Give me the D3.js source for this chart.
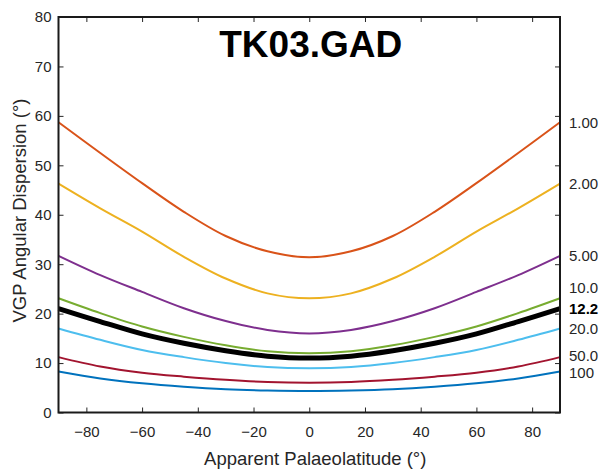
<!DOCTYPE html>
<html>
<head>
<meta charset="utf-8">
<script src="https://cdn.jsdelivr.net/npm/d3@7"></script>
<style>
  body { margin: 0; background: #fff; }
  text { font-family: "Liberation Sans", Arial, Helvetica, sans-serif; }
</style>
</head>
<body>
<div id="chart"></div>
<script>
const lats = [-90, -75, -60, -45, -30, -15, 0, 15, 30, 45, 60, 75, 90]

// VGP dispersion (degrees) for each curve
const s1 = [58.7, 52.5, 46.4, 40.6, 35.7, 32.6, 31.4, 32.6, 35.7, 40.6, 46.4, 52.5, 58.7]
const s2 = [46.3, 41.3, 36.6, 31.5, 27.1, 24.1, 23.1, 24.1, 27.1, 31.5, 36.6, 41.3, 46.3]
const s5 = [31.7, 27.8, 24.4, 21.1, 18.5, 16.7, 16.0, 16.7, 18.5, 21.1, 24.4, 27.8, 31.7]
const s10 = [23.1, 20.1, 17.4, 15.3, 13.6, 12.4, 12.0, 12.4, 13.6, 15.3, 17.4, 20.1, 23.1]
const s12 = [21.0, 18.4, 15.9, 14.0, 12.5, 11.4, 11.0, 11.4, 12.5, 14.0, 15.9, 18.4, 21.0]
const s20 = [17.0, 14.7, 12.65, 11.2, 10.0, 9.2, 8.95, 9.2, 10.0, 11.2, 12.65, 14.7, 17.0]
const s50 = [11.2, 9.3, 8.05, 7.25, 6.6, 6.15, 6.0, 6.15, 6.6, 7.25, 8.05, 9.3, 11.2]
const s100 = [8.3, 6.9, 5.9, 5.2, 4.7, 4.45, 4.35, 4.45, 4.7, 5.2, 5.9, 6.9, 8.3]

const seriesLabels = ['1.00', '2.00', '5.00', '10.0', '20.0', '50.0', '100', '12.2']
const seriesValues = [s1, s2, s5, s10, s20, s50, s100, s12]

const xTicks = [-80, -60, -40, -20, 0, 20, 40, 60, 80]
const yTicks = [0, 10, 20, 30, 40, 50, 60, 70, 80]

const colors = ['#D95319', '#EDB120', '#7E2F8E', '#77AC30', '#4DBEEE', '#A2142F', '#0072BD', '#000000']

const margin = { top: 17, right: 43, bottom: 58.5, left: 58.5 },
  fullWidth = 603,
  fullHeight = 471,
  width = fullWidth - margin.left - margin.right,
  height = fullHeight - margin.top - margin.bottom

const svg = d3.select('#chart')
  .append('svg')
    .attr('width', fullWidth)
    .attr('height', fullHeight)
  .append('g')
    .attr('transform', `translate(${margin.left}, ${margin.top})`)

const xScale = d3.scaleLinear().domain([-90, 90]).range([0, width])
const yScale = d3.scaleLinear().domain([0, 80]).range([height, 0])

const axisColor = '#262626'

function styleAxis (g, hideLabels) {
  g.select('.domain').remove()
  g.selectAll('.tick line').attr('stroke', axisColor).attr('stroke-width', 1)
  g.selectAll('.tick text')
    .attr('fill', axisColor)
    .style('font-size', '15px')
  if (hideLabels) g.selectAll('.tick text').remove()
}

svg.append('g')
  .attr('transform', `translate(0, ${height})`)
  .call(d3.axisBottom(xScale).tickValues(xTicks).tickSize(-5).tickPadding(14))
  .call(g => styleAxis(g, false))

svg.append('g')
  .call(d3.axisTop(xScale).tickValues(xTicks).tickSize(-5))
  .call(g => styleAxis(g, true))

svg.append('g')
  .call(d3.axisLeft(yScale).tickValues(yTicks).tickSize(-5).tickPadding(7))
  .call(g => styleAxis(g, false))

svg.append('g')
  .attr('transform', `translate(${width}, 0)`)
  .call(d3.axisRight(yScale).tickValues(yTicks).tickSize(-5))
  .call(g => styleAxis(g, true))

const line = d3.line()
  .x((d, i) => xScale(lats[i]))
  .y(d => yScale(d))
  .curve(d3.curveCatmullRom.alpha(0.5))

svg.selectAll('.line')
  .data(seriesValues)
  .enter()
  .append('path')
    .attr('class', 'line')
    .attr('d', d => line(d))
    .style('fill', 'none')
    .style('stroke', (d, i) => colors[i])
    .style('stroke-width', (d, i) => seriesLabels[i] === '12.2' ? 5 : 2)

// small nudges so the crowded labels stay readable
const nudge = { '10.0': -11, '50.0': -1, '100': 1 }

// labels at the right end of each curve
svg.selectAll('.end-label')
  .data(seriesValues)
  .enter()
  .append('text')
    .attr('class', 'end-label')
    .attr('x', width + 9)
    .attr('y', (d, i) => yScale(d[d.length - 1]) + (nudge[seriesLabels[i]] || 0))
    .attr('dy', '0.35em')
    .style('font-size', '15px')
    .style('font-weight', (d, i) => seriesLabels[i] === '12.2' ? 'bold' : 'normal')
    .attr('fill', (d, i) => seriesLabels[i] === '12.2' ? '#000' : axisColor)
    .text((d, i) => seriesLabels[i])

// frame
svg.append('rect')
  .attr('width', width)
  .attr('height', height)
  .attr('fill', 'none')
  .attr('stroke', '#1a1a1a')
  .attr('stroke-width', 2)

svg.append('text')
  .attr('x', xScale(0) + 1.5)
  .attr('y', 40)
  .attr('text-anchor', 'middle')
  .style('font-size', '37px')
  .style('font-weight', 'bold')
  .attr('fill', '#000')
  .text('TK03.GAD')

svg.append('text')
  .attr('x', xScale(0) + 6)
  .attr('y', height + 52.5)
  .attr('text-anchor', 'middle')
  .style('font-size', '18.5px')
  .attr('fill', axisColor)
  .text('Apparent Palaeolatitude (°)')

svg.append('text')
  .attr('transform', `translate(${26 - margin.left}, ${210.5 - margin.top}) rotate(-90)`)
  .attr('text-anchor', 'middle')
  .style('font-size', '18.5px')
  .attr('fill', axisColor)
  .text('VGP Angular Dispersion (°)')
</script>
</body>
</html>
